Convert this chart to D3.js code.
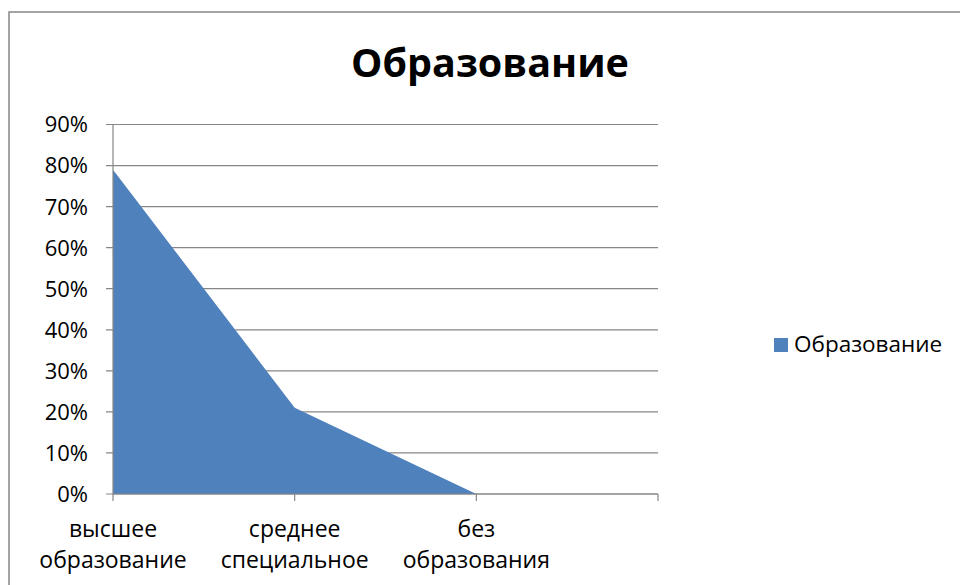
<!DOCTYPE html>
<html>
<head>
<meta charset="utf-8">
<script src="https://cdnjs.cloudflare.com/ajax/libs/d3/7.8.5/d3.min.js"></script>
<style>
  body { margin: 0; background: #fff; }
  text { font-family: "Open Sans", "Noto Sans", sans-serif; fill: #000; }
</style>
</head>
<body>
<div class="chart"></div>
<script>
var title = 'Образование';
var seriesName = 'Образование';
var categories = [['высшее', 'образование'], ['среднее', 'специальное'], ['без', 'образования'], ['']];
var values = [0.79, 0.21, 0, null];
var yTicks = [0, 0.1, 0.2, 0.3, 0.4, 0.5, 0.6, 0.7, 0.8, 0.9];

var w = 960, h = 585;
var svg = d3.select('.chart').append('svg')
    .attr('width', w)
    .attr('height', h);

// chart border (runs off the right and bottom edge)
svg.append('rect')
    .attr('x', 9).attr('y', 12)
    .attr('width', 1000).attr('height', 700)
    .attr('fill', 'none')
    .attr('stroke', '#868686')
    .attr('stroke-width', 1.5);

var x = d3.scalePoint()
    .domain(d3.range(categories.length))
    .range([113, 658]);
var y = d3.scaleLinear()
    .domain([0, 0.9])
    .range([494, 124.5]);

// gridlines
svg.selectAll('.grid')
    .data(yTicks)
    .enter()
    .append('line')
    .attr('class', 'grid')
    .attr('x1', 106).attr('x2', 658)
    .attr('y1', function(d){ return y(d); })
    .attr('y2', function(d){ return y(d); })
    .attr('stroke', '#868686')
    .attr('stroke-width', 1.2);

// area
var pts = values.map(function(v, i){ return {i: i, v: v}; })
    .filter(function(d){ return d.v !== null; });
var area = d3.area()
    .x(function(d){ return x(d.i); })
    .y0(y(0))
    .y1(function(d){ return y(d.v); });
svg.append('path')
    .datum(pts)
    .attr('d', area)
    .attr('fill', '#4F81BD');

// y axis
svg.append('line')
    .attr('x1', 113).attr('x2', 113)
    .attr('y1', y(0.9)).attr('y2', y(0))
    .attr('stroke', '#868686')
    .attr('stroke-width', 1.2);
svg.selectAll('.ylab')
    .data(yTicks)
    .enter()
    .append('text')
    .attr('class', 'ylab')
    .attr('x', 88)
    .attr('y', function(d){ return y(d); })
    .attr('dy', '0.36em')
    .attr('text-anchor', 'end')
    .style('font-size', '22px')
    .text(d3.format('.0%'));

// x axis
svg.append('line')
    .attr('x1', 113).attr('x2', 658)
    .attr('y1', y(0)).attr('y2', y(0))
    .attr('stroke', '#868686')
    .attr('stroke-width', 1.2);
svg.selectAll('.xtick')
    .data(d3.range(categories.length))
    .enter()
    .append('line')
    .attr('class', 'xtick')
    .attr('x1', function(d){ return x(d); })
    .attr('x2', function(d){ return x(d); })
    .attr('y1', y(0)).attr('y2', y(0) + 7)
    .attr('stroke', '#868686')
    .attr('stroke-width', 1.2);
var xlab = svg.selectAll('.xlab')
    .data(categories)
    .enter()
    .append('text')
    .attr('class', 'xlab')
    .attr('text-anchor', 'middle')
    .style('font-size', '23px');
xlab.selectAll('tspan')
    .data(function(d, i){ return d.map(function(s, k){ return {s: s, i: i, k: k}; }); })
    .enter()
    .append('tspan')
    .attr('x', function(d){ return x(d.i); })
    .attr('y', function(d){ return 537 + d.k * 31; })
    .text(function(d){ return d.s; });

// title
svg.append('text')
    .attr('x', 490).attr('y', 77)
    .attr('text-anchor', 'middle')
    .style('font-size', '39.5px')
    .style('font-weight', 'bold')
    .text(title);

// legend
svg.append('rect')
    .attr('x', 774).attr('y', 338)
    .attr('width', 14).attr('height', 14)
    .attr('fill', '#4F81BD');
svg.append('text')
    .attr('x', 794).attr('y', 352)
    .style('font-size', '22.5px')
    .text(seriesName);
</script>
</body>
</html>
